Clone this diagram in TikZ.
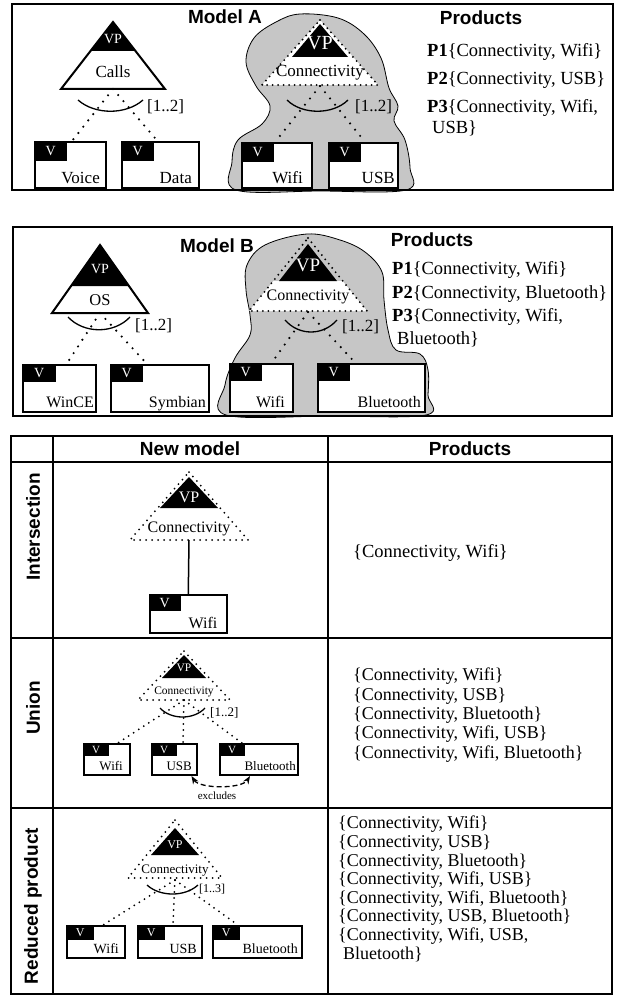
\documentclass[tikz,border=0pt]{standalone}
\usepackage{fontspec}
\setmainfont{Liberation Serif}
\setsansfont{Liberation Sans}
\usetikzlibrary{arrows.meta,positioning}
\definecolor{cloudGray}{HTML}{C6C6C6}

\begin{document}
\begin{tikzpicture}[
  x=1pt, y=-1pt,
  >={Stealth[length=8pt,width=6pt]},
  txt/.style={font=\fontsize{#1}{#1}\selectfont, inner sep=0pt},
  title/.style={font=\sffamily\bfseries\fontsize{19}{22}\selectfont, inner sep=0pt},
  frame/.style={draw, line width=1.5pt},
  cloud/.style={draw, fill=cloudGray, line width=0.8pt},
  tri/.style={draw, line width=2pt},
  dottri/.style={draw, line width=2.1pt, line cap=round, dash pattern=on 0pt off 5.5pt},
  dotln/.style={line width=2.4pt, line cap=round, dash pattern=on 0pt off 8pt},
  dotsm/.style={line width=2pt, line cap=round, dash pattern=on 0pt off 6pt},
  card/.style={line width=1.3pt},
  vbox/.style={draw, line width=2pt, fill=white, inner sep=0pt},
  vtab/.style 2 args={fill=black, text=white, inner sep=0pt, anchor=north west,
    minimum width=#1, minimum height=#2},
  vname/.style={anchor=base east, inner sep=0pt},
  vp/.style={text=white, inner sep=0pt},
  prods/.style={align=left, anchor=north west, inner sep=0pt},
]
  \fill[white] (0,0) rectangle (616,995);

  % ---------------- model A ----------------
  \draw[cloud] plot[smooth cycle, tension=0.6] coordinates {(300,14) (338,18) (364,34)
    (381,58) (389,88) (398,106) (394,121) (405,140) (410,168) (406,190) (320,191)
    (236,190) (232,162) (238,140) (262,124) (270,106) (256,86) (246,62) (254,38) (276,22)};
  \draw[frame] (12,4) rectangle (613,190);
  \node[title] (titleA) at (225,17) {Model A};
  \node[title] (prodHeadA) at (481,18) {Products};

  % calls
  \fill (113,22) -- (135.5,51) -- (90.5,51) -- cycle;
  \draw[tri] (113,22) -- (165,89) -- (61,89) -- cycle;
  \node[vp, txt=14] (vpCalls) at (113,39) {VP};
  \node[txt=17] (calls) at (113,72) {Calls};
  \coordinate (callsFoot) at (113,89);
  \draw[card] (78,100) .. controls (95,115) and (126,115) .. (143,100);
  \node[txt=17, anchor=west] (cardCalls) at (147,107) {[1..2]};

  \node[vbox, minimum width=71pt, minimum height=46pt] (voice) at (70.5,165) {};
  \node[vtab={33pt}{20pt}, txt=14] (voiceV) at (voice.north west) {V};
  \node[vname, txt=17] (voiceL) at ([shift={(-7pt,6pt)}]voice.south east) {Voice};
  \node[vbox, minimum width=77pt, minimum height=46pt] (data) at (160.5,165) {};
  \node[vtab={33pt}{20pt}, txt=14] (dataV) at (data.north west) {V};
  \node[vname, txt=17] (dataL) at ([shift={(-8pt,6pt)}]data.south east) {Data};
  \draw[dotln] (callsFoot) -- ([xshift=1.5pt]voice.north);
  \draw[dotln] (callsFoot) -- ([xshift=-3pt]data.north);

  % connectivity A
  \fill[white] (320,20) -- (378,85) -- (262,85) -- cycle;
  \fill (320,24) -- (348,57) -- (292,57) -- cycle;
  \draw[dottri] (320,20) -- (378,85) -- (262,85) -- cycle;
  \node[vp, txt=20] (vpConnA) at (320,43) {VP};
  \node[txt=17] (connA) at (320,73) {Connectivity};
  \coordinate (connAFoot) at (320,86);
  \draw[card] (287,100) .. controls (302,115) and (333,115) .. (348,100);
  \node[txt=17, anchor=west] (cardConnA) at (355,107) {[1..2]};

  \node[vbox, minimum width=70pt, minimum height=45pt] (wifiA) at (277,165.5) {};
  \node[vtab={33pt}{20pt}, txt=14] (wifiAV) at (wifiA.north west) {V};
  \node[vname, txt=17] (wifiAL) at ([shift={(-10pt,6pt)}]wifiA.south east) {Wifi};
  \node[vbox, minimum width=69pt, minimum height=45pt] (usbA) at (363.5,165.5) {};
  \node[vtab={33pt}{20pt}, txt=14] (usbAV) at (usbA.north west) {V};
  \node[vname, txt=17] (usbAL) at ([shift={(-4pt,6pt)}]usbA.south east) {USB};
  \draw[dotln] (connAFoot) -- ([xshift=-2pt]wifiA.north);
  \draw[dotln] (connAFoot) -- ([xshift=1.5pt]usbA.north);

  \node[prods, font=\fontsize{18.5}{21}\selectfont] (prodsA) at (427,43)
    {\textbf{P1}\{Connectivity, Wifi\}\\[7pt]
     \textbf{P2}\{Connectivity, USB\}\\[7pt]
     \textbf{P3}\{Connectivity, Wifi,\\
     \hspace*{5pt}USB\}};

  % ---------------- model B ----------------
  \draw[cloud] plot[smooth cycle, tension=0.6] coordinates {(307,234) (340,240) (365,252)
    (382,272) (384,300) (388,330) (396,350) (420,354) (428,370) (428,395) (426,415)
    (330,416) (226,415) (225,385) (235,358) (250,335) (250,315) (246,290) (247,265) (265,245)};
  \draw[frame] (13,227) rectangle (612,416);
  \node[title] (titleB) at (217,246) {Model B};
  \node[title] (prodHeadB) at (432,240) {Products};

  % os
  \fill (100,245) -- (129,286) -- (71,286) -- cycle;
  \draw[tri] (100,245) -- (148,313) -- (52,313) -- cycle;
  \node[vp, txt=14] (vpOS) at (100,269) {VP};
  \node[txt=16.5] (os) at (100,300) {OS};
  \coordinate (osFoot) at (100,313);
  \draw[card] (68,317) .. controls (84,334) and (114,334) .. (130,317);
  \node[txt=17, anchor=west] (cardOS) at (135,326) {[1..2]};

  \node[vbox, minimum width=73pt, minimum height=47pt] (wince) at (59.5,388.5) {};
  \node[vtab={34pt}{18pt}, txt=14] (winceV) at (wince.north west) {V};
  \node[vname, txt=16] (winceL) at ([shift={(-3pt,6pt)}]wince.south east) {WinCE};
  \node[vbox, minimum width=98pt, minimum height=47pt] (symbian) at (160,388.5) {};
  \node[vtab={33pt}{18pt}, txt=14] (symbianV) at (symbian.north west) {V};
  \node[vname, txt=16] (symbianL) at ([shift={(-4pt,6pt)}]symbian.south east) {Symbian};
  \draw[dotln] (osFoot) -- ([xshift=7pt]wince.north);
  \draw[dotln] (osFoot) -- ([xshift=-13pt]symbian.north);

  % connectivity B
  \fill[white] (273.5,281) -- (342.5,281) -- (367,311) -- (249,311) -- cycle;
  \fill (308,244) -- (337,281) -- (279,281) -- cycle;
  \draw[dottri] (308,238) -- (367,311) -- (249,311) -- cycle;
  \node[vp, txt=19] (vpConnB) at (308,265) {VP};
  \node[txt=16] (connB) at (308,297) {Connectivity};
  \coordinate (connBFoot) at (308,312);
  \draw[card] (285,320) .. controls (299,336) and (323,336) .. (337,320);
  \node[txt=17, anchor=west] (cardConnB) at (342,327) {[1..2]};

  \node[vbox, minimum width=63pt, minimum height=48pt] (wifiB) at (261.5,388) {};
  \node[vtab={33pt}{18pt}, txt=14] (wifiBV) at (wifiB.north west) {V};
  \node[vname, txt=16] (wifiBL) at ([shift={(-9pt,6pt)}]wifiB.south east) {Wifi};
  \node[vbox, minimum width=107pt, minimum height=48pt] (btB) at (371.5,388) {};
  \node[vtab={33pt}{18pt}, txt=14] (btBV) at (btB.north west) {V};
  \node[vname, txt=16] (btBL) at ([shift={(-5pt,6pt)}]btB.south east) {Bluetooth};
  \draw[dotln] (connBFoot) -- ([xshift=10pt]wifiB.north);
  \draw[dotln] (connBFoot) -- ([xshift=-16pt]btB.north);

  \node[prods, font=\fontsize{18.5}{23}\selectfont] (prodsB) at (392,261)
    {\textbf{P1}\{Connectivity, Wifi\}\\[1pt]
     \textbf{P2}\{Connectivity, Bluetooth\}\\
     \textbf{P3}\{Connectivity, Wifi,\\
     \hspace*{5pt}Bluetooth\}};

  % ---------------- table ----------------
  \draw[frame] (11,436) rectangle (612,994);
  \draw[frame] (11,462) -- (612,462);
  \draw[frame] (11,638) -- (612,638);
  \draw[frame] (11,808) -- (612,808);
  \draw[frame] (53,436) -- (53,994);
  \draw[frame] (328,436) -- (328,994);
  \node[title] (headModel) at (190,449) {New model};
  \node[title] (headProds) at (470,449) {Products};
  \node[title, rotate=90] (rowInter) at (33,527) {Intersection};
  \node[title, rotate=90] (rowUnion) at (33,708) {Union};
  \node[title, rotate=90] (rowReduced) at (33,906) {Reduced product};

  % intersection
  \fill (189,477) -- (218,508) -- (160,508) -- cycle;
  \draw[dotsm] (189,472) -- (248,540) -- (130,540) -- cycle;
  \node[vp, txt=16] (vpInter) at (189,497) {VP};
  \node[txt=16] (connInter) at (189,529) {Connectivity};
  \coordinate (connInterFoot) at (189,540);
  \node[vbox, minimum width=77pt, minimum height=38pt] (wifiI) at (188,614) {};
  \node[vtab={32pt}{17pt}, txt=14] (wifiIV) at (wifiI.north west) {V};
  \node[vname, txt=16] (wifiIL) at ([shift={(-10pt,6pt)}]wifiI.south east) {Wifi};
  \draw[line width=1.5pt] (connInterFoot) -- (wifiI);
  \node[txt=18.5, anchor=west] (prodsInter) at (353,553) {\{Connectivity, Wifi\}};

  % union
  \fill (184,655) -- (206,678) -- (162,678) -- cycle;
  \draw[dotsm] (184,651) -- (230,700) -- (138,700) -- cycle;
  \node[vp, txt=11.5] (vpUnion) at (184,668) {VP};
  \node[txt=11.5] (connUnion) at (184,692) {Connectivity};
  \coordinate (connUnionFoot) at (184,700);
  \draw[card] (160,708) .. controls (171,720) and (194,720) .. (205,708);
  \node[txt=13, anchor=west] (cardUnion) at (210,713) {[1..2]};

  \node[vbox, minimum width=46pt, minimum height=31pt] (wifiU) at (107,759.5) {};
  \node[vtab={26pt}{13pt}, txt=11] (wifiUV) at (wifiU.north west) {V};
  \node[vname, txt=13] (wifiUL) at ([shift={(-8pt,6pt)}]wifiU.south east) {Wifi};
  \node[vbox, minimum width=45pt, minimum height=31pt] (usbU) at (174.5,759.5) {};
  \node[vtab={26pt}{13pt}, txt=11] (usbUV) at (usbU.north west) {V};
  \node[vname, txt=13] (usbUL) at ([shift={(-6pt,6pt)}]usbU.south east) {USB};
  \node[vbox, minimum width=78pt, minimum height=31pt] (btU) at (259,759.5) {};
  \node[vtab={26pt}{13pt}, txt=11] (btUV) at (btU.north west) {V};
  \node[vname, txt=13] (btUL) at ([shift={(-3pt,6pt)}]btU.south east) {Bluetooth};
  \draw[dotsm] (connUnionFoot) -- ([xshift=11pt]wifiU.north);
  \draw[dotsm] (connUnionFoot) -- ([xshift=8.5pt]usbU.north);
  \draw[dotsm] (connUnionFoot) -- ([xshift=-17pt]btU.north);
  \draw[<->, line width=1.3pt, dash pattern=on 5pt off 3pt]
    ([xshift=17pt]usbU.south) .. controls +(8,13) and +(-8,13) .. ([xshift=-9pt]btU.south);
  \node[txt=11] (excl) at (217,796) {excludes};

  \node[prods, font=\fontsize{18}{19.3}\selectfont] (prodsUnion) at (353,668)
    {\{Connectivity, Wifi\}\\
     \{Connectivity, USB\}\\
     \{Connectivity, Bluetooth\}\\
     \{Connectivity, Wifi, USB\}\\
     \{Connectivity, Wifi, Bluetooth\}};

  % reduced product
  \fill (175,828) -- (199,855) -- (151,855) -- cycle;
  \draw[dotsm] (175,820) -- (222,878) -- (128,878) -- cycle;
  \node[vp, txt=12] (vpRed) at (175,845) {VP};
  \node[txt=13] (connRed) at (175,871) {Connectivity};
  \coordinate (connRedFoot) at (175,880);
  \draw[card] (147,885) .. controls (160,897) and (185,897) .. (198,885);
  \node[txt=12, anchor=west] (cardRed) at (199,889) {[1..3]};

  \node[vbox, minimum width=58pt, minimum height=32pt] (wifiR) at (96,942) {};
  \node[vtab={28pt}{15pt}, txt=12] (wifiRV) at (wifiR.north west) {V};
  \node[vname, txt=14] (wifiRL) at ([shift={(-7pt,6pt)}]wifiR.south east) {Wifi};
  \node[vbox, minimum width=64pt, minimum height=32pt] (usbR) at (170,942) {};
  \node[vtab={28pt}{15pt}, txt=12] (usbRV) at (usbR.north west) {V};
  \node[vname, txt=14] (usbRL) at ([shift={(-6pt,6pt)}]usbR.south east) {USB};
  \node[vbox, minimum width=89pt, minimum height=32pt] (btR) at (257.5,942) {};
  \node[vtab={28pt}{15pt}, txt=12] (btRV) at (btR.north west) {V};
  \node[vname, txt=14] (btRL) at ([shift={(-5pt,6pt)}]btR.south east) {Bluetooth};
  \draw[dotsm] (connRedFoot) -- ([xshift=7pt]wifiR.north);
  \draw[dotsm] (connRedFoot) -- ([xshift=3pt]usbR.north);
  \draw[dotsm] (connRedFoot) -- ([xshift=-19.5pt]btR.north);

  \node[prods, font=\fontsize{18}{18.6}\selectfont] (prodsRed) at (338,816)
    {\{Connectivity, Wifi\}\\
     \{Connectivity, USB\}\\
     \{Connectivity, Bluetooth\}\\
     \{Connectivity, Wifi, USB\}\\
     \{Connectivity, Wifi, Bluetooth\}\\
     \{Connectivity, USB, Bluetooth\}\\
     \{Connectivity, Wifi, USB,\\
     \hspace*{5pt}Bluetooth\}};
\end{tikzpicture}
\end{document}
